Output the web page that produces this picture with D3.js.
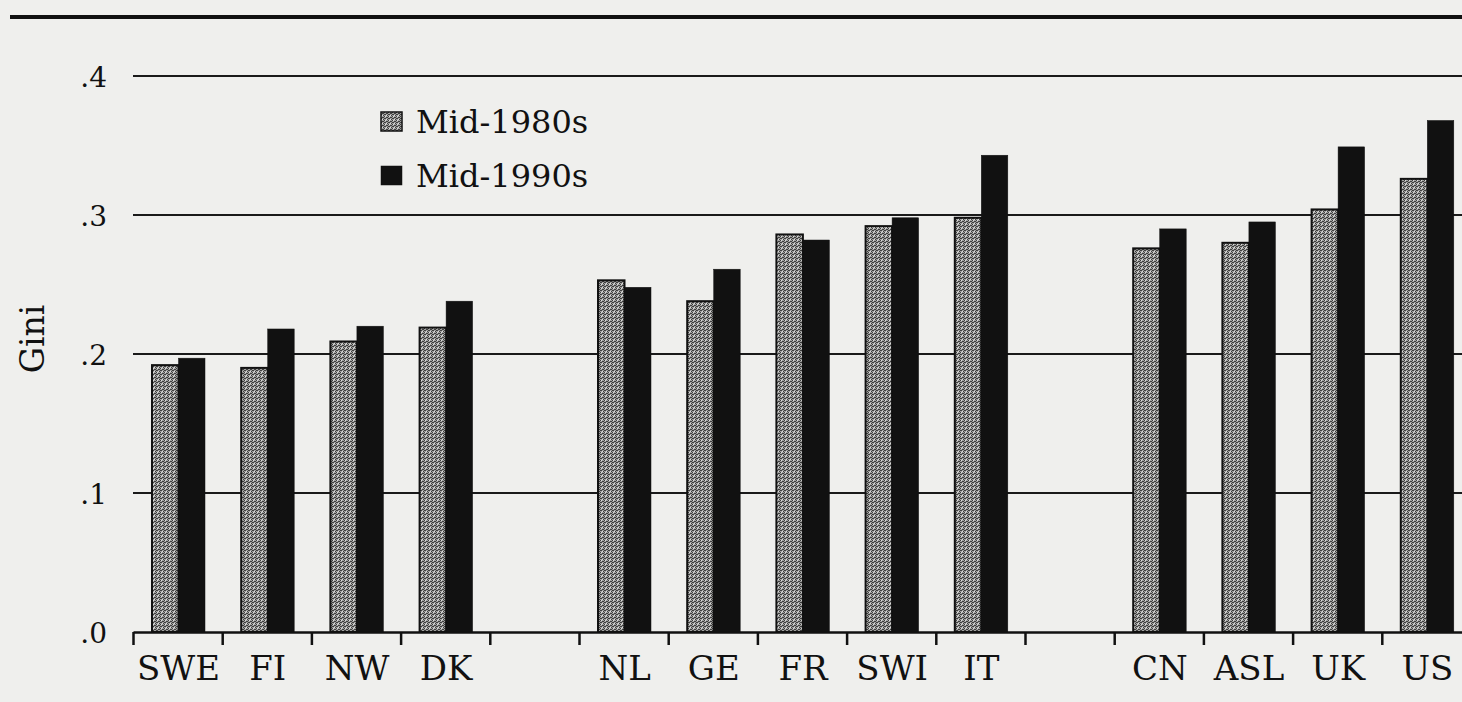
<!DOCTYPE html>
<html>
<head>
<meta charset="utf-8">
<script src="https://cdn.jsdelivr.net/npm/d3@7"></script>
<style>
  html, body { margin: 0; padding: 0; background: #efefed; }
  svg { display: block; }
  text { font-family: "DejaVu Serif", "Liberation Serif", serif; fill: #111; }
</style>
</head>
<body>
<svg id="chart" width="1462" height="702"></svg>
<script>
// ---- data ----
const slots = ["SWE", "FI", "NW", "DK", "_gap1", "NL", "GE", "FR", "SWI", "IT", "_gap2", "CN", "ASL", "UK", "US"];
const countries = ["SWE", "FI", "NW", "DK", "NL", "GE", "FR", "SWI", "IT", "CN", "ASL", "UK", "US"];
const mid1980s = [0.192, 0.190, 0.209, 0.219, 0.253, 0.238, 0.286, 0.292, 0.298, 0.276, 0.280, 0.304, 0.326];
const mid1990s = [0.197, 0.218, 0.220, 0.238, 0.248, 0.261, 0.282, 0.298, 0.343, 0.290, 0.295, 0.349, 0.368];
const seriesNames = ["Mid-1980s", "Mid-1990s"];
const yTicks = [0, 0.1, 0.2, 0.3, 0.4];
const yTickLabels = [".0", ".1", ".2", ".3", ".4"];
const yTitle = "Gini";

// ---- layout ----
const svg = d3.select("#chart");
const W = 1462, H = 702;
const x0 = 133, bandW = 89.2;
const x = d3.scaleBand().domain(slots).range([x0, x0 + bandW * slots.length]).paddingInner(0).paddingOuter(0);
const xs = d3.scaleBand().domain(seriesNames).range([19, 72]).padding(0);
const y = d3.scaleLinear().domain([0, 0.4]).range([632, 76]);

// pattern for stippled grey
const defs = svg.append("defs");
const pat = defs.append("pattern").attr("id", "stipple").attr("patternUnits", "userSpaceOnUse")
  .attr("width", 4).attr("height", 4);
pat.append("rect").attr("width", 4).attr("height", 4).attr("fill", "#a2a2a0");
[[0,0],[2,1],[1,2],[3,3],[3,1],[0,2]].forEach(([px,py]) =>
  pat.append("rect").attr("x", px).attr("y", py).attr("width", 1).attr("height", 1).attr("fill", "#3e3e3e"));
[[1,0],[2,3]].forEach(([px,py]) =>
  pat.append("rect").attr("x", px).attr("y", py).attr("width", 1).attr("height", 1).attr("fill", "#dcdcdc"));

// top rule
svg.append("line").attr("x1", 10).attr("x2", W).attr("y1", 17).attr("y2", 17)
  .attr("stroke", "#111").attr("stroke-width", 4);

// gridlines
svg.append("g").selectAll("line").data(yTicks.filter(d => d > 0)).join("line")
  .attr("x1", x0).attr("x2", W)
  .attr("y1", d => y(d)).attr("y2", d => y(d))
  .attr("stroke", "#1a1a1a").attr("stroke-width", 2);

// y tick labels
svg.append("g").selectAll("text").data(yTicks).join("text")
  .attr("x", 107).attr("y", d => y(d) + 11)
  .attr("text-anchor", "end")
  .attr("font-size", 28)
  .text((d, i) => yTickLabels[i]);

// y title
svg.append("text")
  .attr("transform", "translate(44,339) rotate(-90)")
  .attr("text-anchor", "middle")
  .attr("font-size", 33)
  .text(yTitle);

// bars
const rows = countries.map((c, i) => ({ c, v: [mid1980s[i], mid1990s[i]] }));
const g = svg.append("g");
rows.forEach(r => {
  seriesNames.forEach((s, k) => {
    g.append("rect")
      .attr("x", x(r.c) + xs(s))
      .attr("y", y(r.v[k]))
      .attr("width", xs.bandwidth())
      .attr("height", y(0) - y(r.v[k]))
      .attr("fill", k === 0 ? "url(#stipple)" : "#111")
      .attr("stroke", "#111")
      .attr("stroke-width", k === 0 ? 2 : 0.5);
  });
});

// x axis with ticks at band edges
const edge = d3.scaleLinear().domain([0, slots.length]).range([x0, x0 + bandW * slots.length]);
const axis = svg.append("g").attr("transform", `translate(0,${y(0)})`)
  .call(d3.axisBottom(edge).tickValues(d3.range(0, slots.length)).tickSize(13).tickFormat("").tickSizeOuter(0));
axis.select(".domain").attr("stroke", "#111").attr("stroke-width", 2.5);
axis.selectAll(".tick line").attr("stroke", "#111").attr("stroke-width", 2.5);

// x labels
svg.append("g").selectAll("text").data(countries).join("text")
  .attr("x", d => x(d) + x.bandwidth() / 2 + 1)
  .attr("y", 680)
  .attr("text-anchor", "middle")
  .attr("font-size", 34)
  .text(d => d);

// legend
const leg = svg.append("g");
seriesNames.forEach((s, k) => {
  const by = k === 0 ? 133 : 187;
  leg.append("rect").attr("x", 381).attr("y", by - 21).attr("width", 21).attr("height", 19)
    .attr("fill", k === 0 ? "url(#stipple)" : "#111")
    .attr("stroke", "#111").attr("stroke-width", k === 0 ? 1.5 : 0.5);
  leg.append("text").attr("x", 416).attr("y", by).attr("font-size", 32).text(s);
});
</script>
</body>
</html>
